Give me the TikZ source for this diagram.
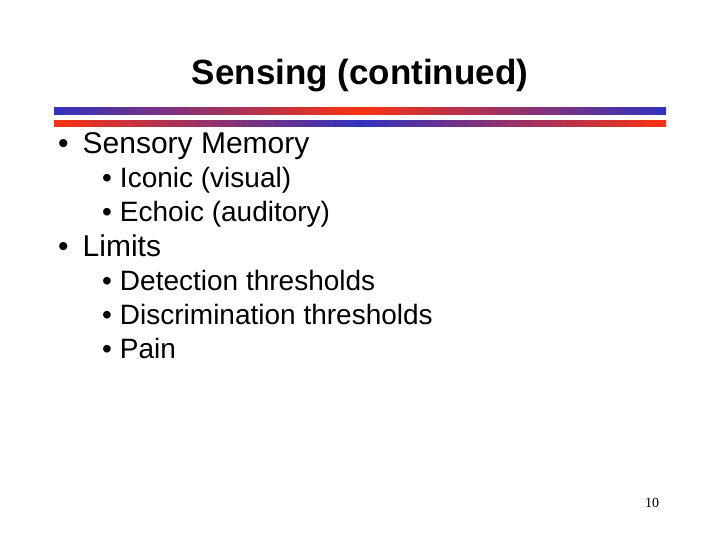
\documentclass[tikz,border=0pt]{standalone}
\usepackage{fontspec}
\setmainfont{Liberation Sans}
\newfontfamily\serifnum{Liberation Serif}
\definecolor{bb}{RGB}{50,50,190}
\definecolor{rr}{RGB}{250,50,20}
\begin{document}
\begin{tikzpicture}[x=1pt,y=-1pt,
 lone/.style={anchor=base west,font=\fontsize{30}{34}\selectfont,inner sep=0},
 ltwo/.style={anchor=base west,font=\fontsize{28}{32}\selectfont,inner sep=0}]
\useasboundingbox (0,0) rectangle (720,540);
\node[font=\bfseries\fontsize{35}{40}\selectfont] (title) at (360,76) {Sensing (continued)};
\shade[left color=bb,right color=bb,middle color=rr] (54,108) rectangle (666,115);
\shade[left color=rr,right color=rr,middle color=bb] (54,121) rectangle (666,127);
\node[lone] (b1) at (58,154) {•\hspace{14pt}Sensory Memory};
\node[ltwo] (s1) at (102,188) {•\hspace{8pt}Iconic (visual)};
\node[ltwo] (s2) at (102,222) {•\hspace{8pt}Echoic (auditory)};
\node[lone] (b2) at (58,256) {•\hspace{14pt}Limits};
\node[ltwo] (s3) at (102,290) {•\hspace{8pt}Detection thresholds};
\node[ltwo] (s4) at (102,324) {•\hspace{8pt}Discrimination thresholds};
\node[ltwo] (s5) at (102,358) {•\hspace{8pt}Pain};
\node[font=\serifnum\fontsize{14}{16}\selectfont] (pg) at (652,503) {10};
\end{tikzpicture}
\end{document}
